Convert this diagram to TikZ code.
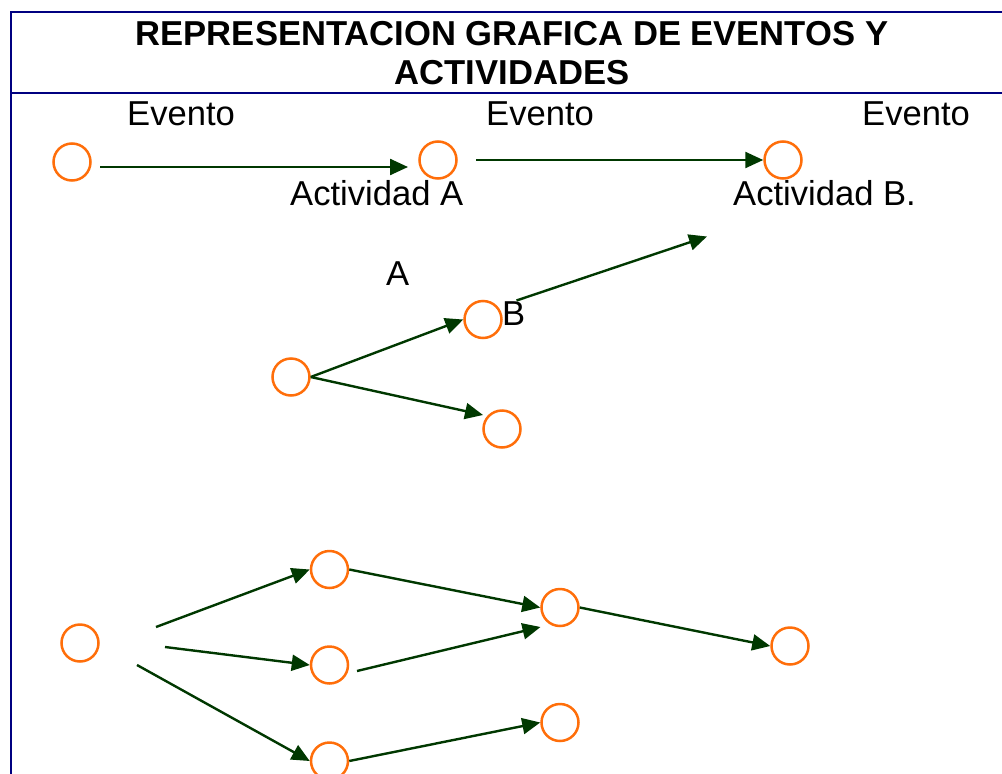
\documentclass[tikz,border=0pt]{standalone}
\usepackage{fontspec}
\setmainfont{Liberation Sans}
\usetikzlibrary{arrows.meta}
\definecolor{framec}{RGB}{0,0,128}
\definecolor{evc}{RGB}{255,110,10}
\definecolor{actc}{RGB}{0,56,0}
\begin{document}
\begin{tikzpicture}[x=1pt,y=-1pt,
  ev/.style={circle,draw=evc,line width=2.5pt,minimum size=37pt,inner sep=0pt},
  act/.style={draw=actc,line width=2.4pt,-{Triangle[length=18pt,width=16pt]}},
  lbl/.style={anchor=base west,inner sep=0pt,font=\fontsize{34.6}{40}\selectfont},
  ttl/.style={anchor=base,inner sep=0pt,font=\fontsize{34.6}{40}\bfseries\selectfont},
  frm/.style={draw=framec,line width=2.8pt}]
\useasboundingbox (0,0) rectangle (1002,774);
% frame
\draw[frm] (1010,12) -- (11,12) -- (11,780);
\draw[frm] (11,93) -- (1010,93);
% title
\node[ttl] (t1) at (512,45) {REPRESENTACION GRAFICA DE EVENTOS Y};
\node[ttl] (t2) at (512,84) {ACTIVIDADES};
% labels
\node[lbl] (e1) at (127,125) {Evento};
\node[lbl] (e2) at (486,125) {Evento};
\node[lbl] (e3) at (862,125) {Evento};
\node[lbl] (la) at (290,205) {Actividad A};
\node[lbl] (lb) at (733,205) {Actividad B.};
\node[lbl] (lA) at (386,285) {A};
% events
\node[ev] (c1) at (72,162) {};
\node[ev] (c2) at (438,160) {};
\node[ev] (c3) at (783,160) {};
\node[ev] (c4) at (291,377) {};
\node[ev] (c5) at (483,319.5) {};
\node[ev] (c6) at (502,429) {};
\node[lbl] (lB) at (502,325) {B};
\node[ev] (c7) at (80,643) {};
\node[ev] (c8) at (329.5,569.5) {};
\node[ev] (c9) at (329.5,665) {};
\node[ev] (c10) at (329.5,761) {};
\node[ev] (c11) at (560,607.5) {};
\node[ev] (c12) at (790,646) {};
\node[ev] (c13) at (560,722.5) {};
% free ends
\coordinate (p1) at (100,167);
\coordinate (q1) at (408,167);
\coordinate (p2) at (476,160);
\coordinate (p3) at (516.5,300.5);
\coordinate (q3) at (707,236.5);
\coordinate (q4) at (483,415);
\coordinate (p5) at (156,627);
\coordinate (p6) at (165,647);
\coordinate (p7) at (137,665);
\coordinate (p8) at (357,671);
\coordinate (q8) at (540.5,627);
% activities
\draw[act] (p1) -- (q1);
\draw[act] (p2) -- (c3.west);
\draw[act] (c4.east) -- (c5.west);
\draw[act] (c4.east) -- (q4);
\draw[act] (p3) -- (q3);
\draw[act] (p5) -- (c8.west);
\draw[act] (p6) -- (c9.west);
\draw[act] (p7) -- (c10.west);
\draw[act] (c8.east) -- (c11.west);
\draw[act] (p8) -- (q8);
\draw[act] (c11.east) -- (c12.west);
\draw[act] (c10.east) -- (c13.west);
\end{tikzpicture}
\end{document}
